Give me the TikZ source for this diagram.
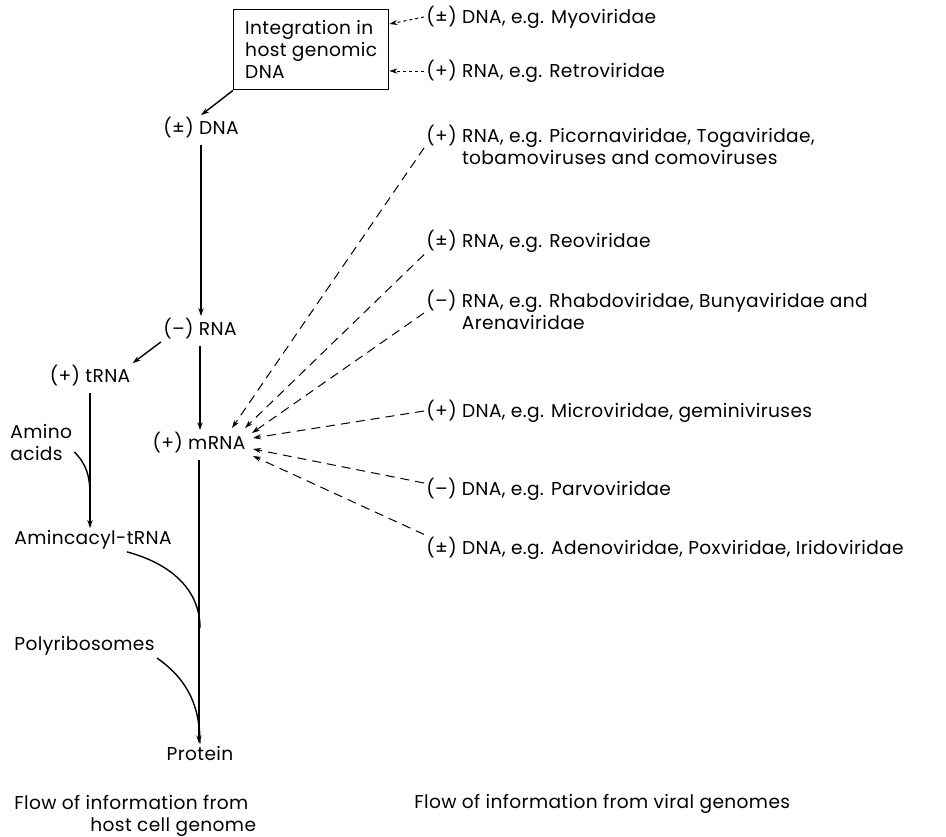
\documentclass[tikz,border=0pt]{standalone}
\usepackage{fontspec}
\setmainfont{Poppins}[LetterSpace=2]
\usetikzlibrary{positioning}
\usetikzlibrary{arrows.meta}

\begin{document}
\begin{tikzpicture}[x=0.5pt, y=-0.5pt,
                    lbl/.style={inner sep=1pt, font=\fontsize{9.3}{11}\selectfont},
                    virus/.style={lbl, anchor=west, align=left},
                    flow/.style={-{Stealth[length=4pt,width=2.6pt]}, line width=.7pt},
                    feed/.style={line width=.7pt},
                    viral/.style={flow, line width=.5pt, dash pattern=on 4.5pt off 3pt},
                    integ/.style={flow, line width=.5pt, dash pattern=on 1.5pt off 1.5pt}]
\useasboundingbox (0,0) rectangle (946,836);
% host cell column
\node (box) [lbl, draw, line width=.7pt, anchor=north west, align=left, minimum width=77.5pt, minimum height=40pt] at (233,9) {Integration in\\host genomic\\DNA};
\node (dnah) [lbl] at (201,128) {(±) DNA};
\node (rnam) [lbl] at (200,329) {(–) RNA};
\node (trna) [lbl] at (90,376) {(+) tRNA};
\node (mrna) [lbl] at (199,443) {(+) mRNA};
\node (amino) [lbl, anchor=west, align=left] at (8,442) {Amino\\acids};
\node (aatrna) [lbl] at (93,540) {Amincacyl-tRNA};
\node (poly) [lbl, anchor=west] at (12,646) {Polyribosomes};
\node (prot) [lbl] at (200,753) {Protein};
\coordinate (aamerge) at (90,495);
\coordinate (trmerge) at (200,628);
% viral genomes
\node (myo) [virus] at (424,17) {(±) DNA, e.g. Myoviridae};
\node (retro) [virus] at (424,71) {(+) RNA, e.g. Retroviridae};
\node (picorna) [virus] at (424,148) {\begin{tabular}{@{}l@{ }l@{}}(+) & RNA, e.g. Picornaviridae, Togaviridae,\\ & tobamoviruses and comoviruses\end{tabular}};
\node (reo) [virus] at (424,241) {(±) RNA, e.g. Reoviridae};
\node (rhabdo) [virus] at (424,313) {\begin{tabular}{@{}l@{ }l@{}}(–) & RNA, e.g. Rhabdoviridae, Bunyaviridae and\\ & Arenaviridae\end{tabular}};
\node (micro) [virus] at (424,411) {(+) DNA, e.g. Microviridae, geminiviruses};
\node (parvo) [virus] at (424,489) {(–) DNA, e.g. Parvoviridae};
\node (adeno) [virus] at (424,548) {(±) DNA, e.g. Adenoviridae, Poxviridae, Iridoviridae};
% captions
\node (hostcap) [lbl, anchor=west, align=left] at (12,816) {Flow of information from\\\hspace*{38pt}host cell genome};
\node (viralcap) [lbl, anchor=west] at (412,804) {Flow of information from viral genomes};
% connectors
\draw[flow] (box.south west) -- (dnah.north);
\draw[flow, shorten <=2pt] (dnah.south) -- (dnah.south |- rnam.north);
\draw[flow] (rnam.south west) -- (trna.north east);
\draw[flow, shorten <=2pt] (rnam.south) -- (rnam.south |- mrna.north);
\draw[flow, shorten <=2pt] (trna.south) -- (trna.south |- aatrna.north);
\draw[flow, shorten <=2pt] (mrna.south) -- (mrna.south |- prot.north);
\draw[feed] ([yshift=-5pt]amino.east) to[out=-45, in=90] (aamerge);
\draw[feed] ([xshift=17pt]aatrna.south) to[out=-15, in=90] (trmerge);
\draw[feed] ([yshift=-6pt]poly.east) to[out=-35, in=90] (prot.north);
\draw[integ] (myo.west) -- ([yshift=-7.5pt]box.north east);
\draw[integ] (retro.west) -- (retro.west -| box.east);
\draw[viral] (picorna.west) -- ([xshift=16.5pt, yshift=7.5pt]mrna.center);
\draw[viral] (reo.south west) -- ([xshift=23pt, yshift=7.5pt]mrna.center);
\draw[viral] (rhabdo.west) -- ([xshift=26.5pt, yshift=5pt]mrna.center);
\draw[viral] (micro.west) -- ([xshift=27pt, yshift=2.5pt]mrna.center);
\draw[viral] ([yshift=3pt]parvo.west) -- ([xshift=27pt, yshift=-3pt]mrna.center);
\draw[viral] (adeno.north west) -- ([xshift=27pt, yshift=-6.5pt]mrna.center);
\end{tikzpicture}
\end{document}
